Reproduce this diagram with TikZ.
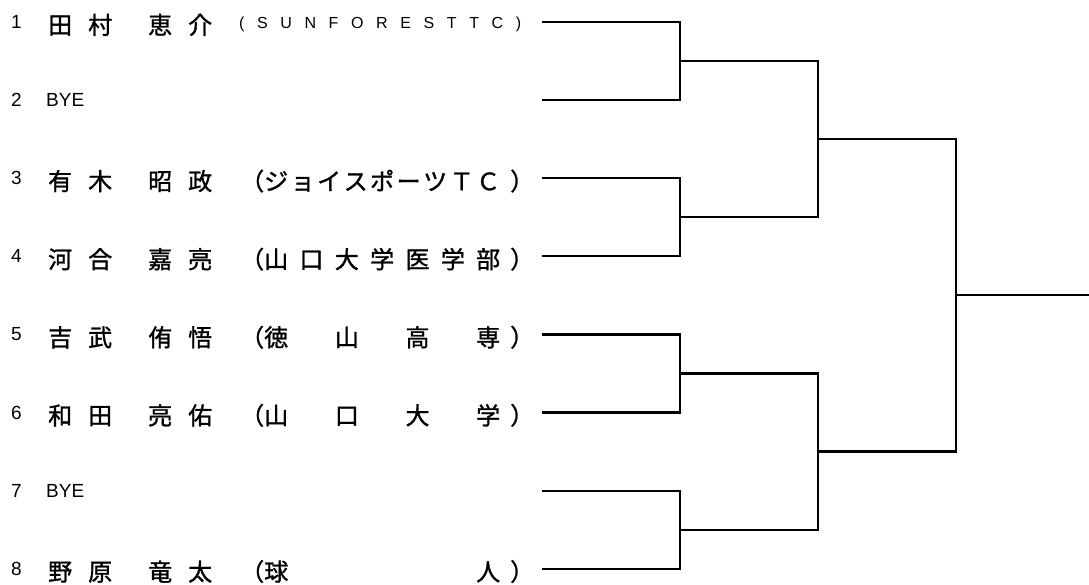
\documentclass[tikz,border=0pt]{standalone}
\usepackage{fontspec}
\setmainfont{Liberation Sans}
\newfontfamily\jpfont[FakeBold=1.2]{Noto Sans CJK JP}
\newcommand{\jpsize}{\jpfont\fontsize{24pt}{24pt}\selectfont}
\newcommand{\numsize}{\fontsize{19pt}{19pt}\selectfont}
% four name characters: surname, gap, given name
\newcommand{\namebox}[4]{\makebox[24pt]{#1}\hspace{16pt}\makebox[24pt]{#2}\hspace{36pt}\makebox[24pt]{#3}\hspace{16pt}\makebox[24pt]{#4}}
% club spread between the brackets
\newcommand{\clubbox}[1]{（\makebox[236pt][s]{#1}\hspace{10pt}）}

\begin{document}
\begin{tikzpicture}[x=1pt,y=-1pt,
    txt/.style={inner sep=0pt,anchor=base west},
    bracket/.style={line width=2.2pt}]
    \useasboundingbox (0,0) rectangle (1089,585);

    % Seed numbers and slot starts
    \foreach \i in {1,...,8} {
        \pgfmathsetmacro{\y}{22+78.1*(\i-1)}
        \node[txt,font=\numsize] (num\i) at (11,\y+6.5) {\i};
        \coordinate (slot\i) at (542,\y);
    }

    % Players
    \foreach \i/\a/\b/\c/\d/\club in {3/有/木/昭/政/{ジ\hfil ョ\hfil イ\hfil ス\hfil ポ\hfil ー\hfil ツ\hfil Ｔ\hfil Ｃ},
        4/河/合/嘉/亮/{山\hfil 口\hfil 大\hfil 学\hfil 医\hfil 学\hfil 部},
        5/吉/武/侑/悟/{徳\hfil 山\hfil 高\hfil 専},
        6/和/田/亮/佑/{山\hfil 口\hfil 大\hfil 学},
        8/野/原/竜/太/{球\hfil 人}} {
        \pgfmathsetmacro{\y}{22+78.1*(\i-1)}
        \node[txt,font=\jpsize] (name\i) at (48,\y+12) {\namebox{\a}{\b}{\c}{\d}};
        \node[txt,font=\jpsize] (club\i) at (240,\y+12) {\clubbox{\club}};
    }
    \node[txt,font=\jpsize] (name1) at (48,34) {\namebox{田}{村}{恵}{介}};
    \node[txt,font=\fontsize{16pt}{16pt}\selectfont] (club1) at (239,29)
        {\makebox[282pt][s]{(\hfil S\hfil U\hfil N\hfil F\hfil O\hfil R\hfil E\hfil S\hfil T\hfil T\hfil C\hfil )}};

    % Byes
    \foreach \i in {2,7} {
        \pgfmathsetmacro{\y}{22+78.1*(\i-1)}
        \node[txt,font=\numsize] (bye\i) at (46,\y+6.5) {BYE};
    }

    % Bracket points
    \foreach \k/\y in {1/61.05, 2/217.25, 3/373.45, 4/529.65}
        \coordinate (ra\k) at (680,\y);
    \coordinate (rb1) at (818,139.15);
    \coordinate (rb2) at (818,451.55);
    \coordinate (rc) at (956,295.35);
    \coordinate (champ) at (1089,295.35);

    % Draw the bracket
    \foreach \k in {1,...,4} {
        \pgfmathtruncatemacro{\a}{2*\k-1}
        \pgfmathtruncatemacro{\b}{2*\k}
        \draw[bracket] (slot\a) -| (ra\k) |- (slot\b);
    }
    \draw[bracket] (ra1) -| (rb1) |- (ra2);
    \draw[bracket] (ra3) -| (rb2) |- (ra4);
    \draw[bracket] (rb1) -| (rc) |- (rb2);
    \draw[bracket] (rc) -- (champ);
\end{tikzpicture}
\end{document}
